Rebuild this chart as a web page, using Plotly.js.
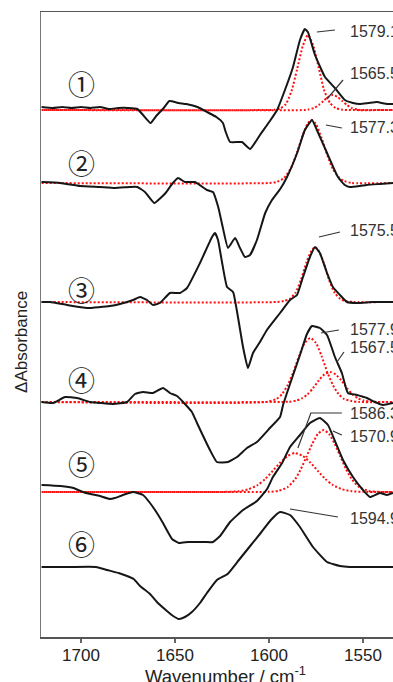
<!DOCTYPE html>
<html>
<head>
<meta charset="utf-8">
<script src="https://cdn.plot.ly/plotly-3.0.1.min.js"></script>
<style>html,body{margin:0;padding:0;overflow:hidden;background:#fff;}#chart{width:393px;height:682px;}</style>
</head>
<body>
<div id="chart"></div>
<script>
// ---- data (wavenumber in cm-1, ΔAbsorbance in arbitrary units relative to each spectrum's baseline) ----
const offsets = [527, 454, 335, 235, 145, 70];
const labels = ['①', '②', '③', '④', '⑤', '⑥'];

const wn1 = [1721, 1715, 1710, 1705, 1700, 1695, 1690, 1685, 1680, 1675, 1670, 1667, 1663, 1660, 1656, 1653, 1648, 1644, 1638, 1633, 1628, 1624.5, 1623, 1620.7, 1614.4, 1610, 1604.8, 1599.5, 1595.7, 1591.5, 1587.2, 1583.5, 1580.9, 1579.3, 1575.5, 1570.2, 1564.9, 1559.6, 1555.3, 1551.6, 1547, 1542.6, 1537.2, 1534];
const d1 = [3, 2, 3, 2, 3, 2, 3, 1, 2, 2, 1, -5, -13, -6, 2, 9, 7, 6, 3, -2, -7, -13, -22, -32, -32, -39, -25, -11, 0, 20, 43, 70, 81, 78, 55, 33, 22, 10, 7, 6, 7, 8, 6, 6];

const wn2 = [1721, 1711, 1700.5, 1690, 1682, 1674, 1670, 1666, 1661, 1655, 1651.6, 1648.4, 1644.7, 1639.4, 1633, 1629.8, 1627, 1624.5, 1621.8, 1618, 1615.4, 1612.8, 1610.1, 1606.4, 1602, 1598.4, 1594, 1590.4, 1585, 1580.9, 1577.1, 1574.5, 1569.1, 1563.3, 1559.6, 1557, 1551.6, 1548, 1541, 1534];
const d2 = [1, 0, -3, -4, -5, -4, -4, -9, -20, -10, -1, 5, 1, 1, -7, -9, -24, -45, -65, -55, -65, -74, -72, -57, -30, -17, -6, 6, 30, 53, 63, 53, 30, 6, -2, -4, -3, -2, -1, 0];

const wn3 = [1721, 1716.5, 1707.4, 1696.8, 1684.6, 1679.3, 1672.3, 1668.6, 1664.9, 1661.7, 1658, 1652.7, 1647.3, 1643.6, 1636.7, 1630.3, 1628.7, 1627.1, 1625, 1622.3, 1619.1, 1616.5, 1613.8, 1611.2, 1608.5, 1604.8, 1601.1, 1594.1, 1588.8, 1585.1, 1581.9, 1578.2, 1575.5, 1572.9, 1569.1, 1566, 1562.2, 1558.5, 1553.2, 1544.7, 1534];
const d3 = [0, 0, -3, -6, -4, -2, 2, 5, 2, -3, -1, 9, 9, 14, 39, 65, 69, 62, 40, 15, 10, -15, -45, -66, -51, -40, -28, -11, 2, 7, 25, 45, 55, 49, 29, 15, 7, 0, -1, 0, 0];

const wn4 = [1721, 1714.9, 1708.5, 1702.1, 1695.2, 1689.9, 1683, 1675.5, 1671.3, 1667, 1661.7, 1656.4, 1652.7, 1648.9, 1645.7, 1641, 1638.3, 1631.4, 1627.7, 1621.8, 1617, 1611.7, 1606.4, 1599.5, 1594.1, 1592.5, 1588.8, 1583.5, 1579.8, 1577.1, 1572.9, 1569.1, 1564.9, 1561.2, 1558, 1553.2, 1547.9, 1543.6, 1539.4, 1534];
const d4 = [0, -1, 5, 4, 0, -1, -2, 0, 8, 10, 9, 14, 9, 6, 0, -10, -21, -48, -60, -60, -55, -46, -40, -26, -15, -3, 18, 47, 68, 76, 74, 67, 45, 29, 9, 7, 4, 0, -3, -1];

const wn5 = [1721, 1711, 1704, 1699, 1695, 1690, 1684.6, 1682, 1677.7, 1672.3, 1667, 1663.3, 1659.6, 1656.4, 1653.5, 1651.6, 1648, 1643, 1639.4, 1634, 1629.8, 1626, 1620.7, 1613.8, 1606.4, 1601, 1597.9, 1593, 1588.8, 1583.5, 1578.2, 1572.9, 1568.6, 1563.8, 1560.6, 1555.3, 1550, 1546.3, 1541, 1537.2, 1534];
const d5 = [7, 6, 4, 0, -2, -4, -7, -6, -3, 0, -3, -11, -21, -31, -41, -47, -51, -50, -50, -50, -50, -44, -30, -18, -9, 3, 15, 29, 45, 57, 69, 74, 67, 46, 32, 15, 2, -5, -1, -3, -1];

const wn6 = [1721, 1706, 1692, 1686, 1680, 1675.5, 1672, 1668.6, 1663.3, 1659.6, 1654.3, 1651, 1648, 1644.7, 1641, 1636.7, 1633, 1627.7, 1622, 1616, 1610, 1604, 1599, 1594.1, 1588.8, 1583.5, 1576.6, 1569.1, 1562.2, 1557, 1534];
const d6 = [0, 0, 0, -3, -6, -9, -12, -19, -27, -35, -44, -49, -52, -50, -45, -36, -26, -13, -7, 7, 21, 35, 47, 55, 52, 40, 20, 5, 1, 0, 0];

// fitted Gaussian components (red dotted)
const fit1a_x = [1721, 1600, 1597, 1594, 1591, 1588, 1585, 1582, 1579.3, 1576.5, 1573.5, 1570.5, 1567.5, 1564.5, 1561, 1534];
const fit1a_y = [0, 0, 0.3, 1.5, 6, 19, 41, 64, 75, 65, 42, 19, 7, 2, 0.3, 0];
const fit1b_x = [1719.9, 1581, 1579, 1576, 1573.5, 1571, 1568.5, 1566, 1563.5, 1561, 1558.5, 1556, 1553, 1551, 1534];
const fit1b_y = [0, 0, 0.5, 2, 5, 9, 13, 15, 13, 9, 5, 2, 0.5, 0, 0];
const fit2_x = [1721, 1600, 1596, 1592, 1588, 1585, 1582, 1579.5, 1577.3, 1575, 1572, 1569, 1566, 1563, 1560, 1556, 1534];
const fit2_y = [0, 0, 1, 5, 16, 31, 48, 59, 63, 59, 45, 28, 14, 6, 2, 0, 0];
const fit3_x = [1721, 1596, 1592, 1589, 1586, 1583, 1580, 1577.5, 1575.5, 1573.5, 1571, 1568, 1565, 1562, 1559, 1555, 1534];
const fit3_y = [0, 0, 1, 3, 9, 22, 40, 51, 55, 51, 40, 22, 9, 3, 1, 0, 0];
const fit4a_x = [1721, 1602, 1596, 1593, 1590, 1587, 1584, 1581, 1578, 1575, 1572, 1569, 1566, 1563, 1560, 1556, 1552, 1534];
const fit4a_y = [0, 0, 3, 8, 17, 30, 46, 59, 64, 59, 46, 30, 17, 8, 3, 1, 0, 0];
const fit4b_x = [1721, 1594, 1589.5, 1585.5, 1582.5, 1579.5, 1576.5, 1573.5, 1570.5, 1567.5, 1564.5, 1561.5, 1558.5, 1555.5, 1552.5, 1549.5, 1545.5, 1534];
const fit4b_y = [0, 0, 0.3, 1.4, 3.6, 7.6, 14, 21.5, 27.6, 30, 27.6, 21.5, 14, 7.6, 3.6, 1.4, 0.3, 0];
const fit5a_x = [1721, 1628, 1622, 1616, 1611, 1606, 1602, 1598, 1594, 1590, 1586.3, 1582, 1578, 1574, 1570, 1566, 1561, 1556, 1550, 1534];
const fit5a_y = [0, 0, 0.2, 0.8, 2.7, 7, 13, 21, 29.5, 36, 39, 36, 29.5, 21, 13, 7, 2.7, 0.8, 0.2, 0];
const fit5b_x = [1719.9, 1605, 1600, 1595, 1590, 1586, 1583, 1580, 1577, 1574, 1570.9, 1568, 1565, 1562, 1559, 1556, 1552, 1547, 1542, 1534];
const fit5b_y = [0, 0, 0.2, 1.1, 5, 13, 23, 35.5, 48, 58, 62, 58, 48, 35.5, 23, 13, 5, 1.1, 0.2, 0];

const peakLabels = ['1579.1', '1565.5', '1577.3', '1575.5', '1577.9', '1567.5', '1586.3', '1570.9', '1594.9'];

// ---- build traces ----
const spectra = [[wn1, d1], [wn2, d2], [wn3, d3], [wn4, d4], [wn5, d5], [wn6, d6]];
const fits = [
  [0, fit1a_x, fit1a_y], [0, fit1b_x, fit1b_y],
  [1, fit2_x, fit2_y],
  [2, fit3_x, fit3_y],
  [3, fit4a_x, fit4a_y], [3, fit4b_x, fit4b_y],
  [4, fit5a_x, fit5a_y], [4, fit5b_x, fit5b_y]
];

const data = [];
fits.forEach(f => {
  const off = offsets[f[0]];
  data.push({
    x: f[1], y: f[2].map(v => v + off), mode: 'lines', type: 'scatter',
    line: {color: '#ff1010', width: 2, dash: '2px,2px', shape: 'spline', smoothing: 0.6},
    hoverinfo: 'skip', showlegend: false
  });
});
spectra.forEach((s, i) => {
  data.push({
    x: s[0], y: s[1].map(v => v + offsets[i]), mode: 'lines', type: 'scatter',
    line: {color: '#161616', width: 2, shape: 'spline', smoothing: 0.4},
    hoverinfo: 'skip', showlegend: false
  });
});

// ---- annotations ----
const annotations = [];
const circleY = [554, 475, 348, 258, 174, 94];
labels.forEach((t, i) => {
  annotations.push({x: 1699.5, y: circleY[i], xref: 'x', yref: 'y', text: t, showarrow: false,
    xanchor: 'center', yanchor: 'middle', font: {family: 'Noto Sans CJK JP', size: 27, color: '#222'}});
});
const labY = [606, 564, 510, 407, 308, 290, 224, 201, 119];
peakLabels.forEach((t, i) => {
  annotations.push({x: 1558, y: labY[i], xref: 'x', yref: 'y', text: t, showarrow: false,
    xanchor: 'left', yanchor: 'middle', font: {family: 'Liberation Sans, Arial', size: 16, color: '#333'}});
});
annotations.push({x: -0.057, y: 295, xref: 'paper', yref: 'y', text: 'ΔAbsorbance', textangle: -90,
  showarrow: false, xanchor: 'center', yanchor: 'middle', font: {family: 'Liberation Sans, Arial', size: 17, color: '#222'}});
annotations.push({x: 1622.9, y: -0.0605, xref: 'x', yref: 'paper', text: 'Wavenumber / cm<sup>-1</sup>',
  showarrow: false, xanchor: 'center', yanchor: 'middle', font: {family: 'Liberation Sans, Arial', size: 18.5, color: '#222'}});

// leader lines
const ln = {color: '#333', width: 1.2};
const seg = (x0, y0, x1, y1) => ({type: 'line', xref: 'x', yref: 'y', x0: x0, y0: y0, x1: x1, y1: y1, line: ln});
const shapes = [
  seg(1574.5, 605, 1564.9, 607),
  seg(1569.1, 538, 1560.6, 557),
  seg(1569.7, 512, 1561.2, 509),
  seg(1573.4, 400, 1562.2, 405),
  seg(1572.3, 304, 1562.8, 307),
  seg(1563.8, 275, 1560.1, 285),
  {type: 'path', xref: 'x', yref: 'y', path: 'M1561.2,224 L1577.7,224 L1584.6,189', line: ln},
  seg(1566, 206, 1561.2, 202),
  seg(1588.8, 128, 1563.3, 120)
];

const layout = {
  width: 393, height: 682,
  margin: {l: 41, r: 0, t: 12, b: 45},
  paper_bgcolor: '#fff', plot_bgcolor: '#fff',
  xaxis: {
    range: [1721.3, 1534.0], tickvals: [1700, 1650, 1600, 1550], ticktext: ['1700', '1650', '1600', '1550'],
    ticks: 'outside', ticklen: 4, tickwidth: 1.5, tickcolor: '#666', ticklabelstandoff: -2,
    showline: true, mirror: true, linecolor: '#555', linewidth: 1.5,
    showgrid: false, zeroline: false,
    tickfont: {family: 'Liberation Sans, Arial', size: 17, color: '#222'}
  },
  yaxis: {
    range: [0, 625], showticklabels: false, ticks: '', showline: true, linecolor: '#777', linewidth: 1.5,
    showgrid: false, zeroline: false
  },
  annotations: annotations,
  shapes: shapes,
  showlegend: false
};

Plotly.newPlot('chart', data, layout, {staticPlot: true, displayModeBar: false});
</script>
</body>
</html>
